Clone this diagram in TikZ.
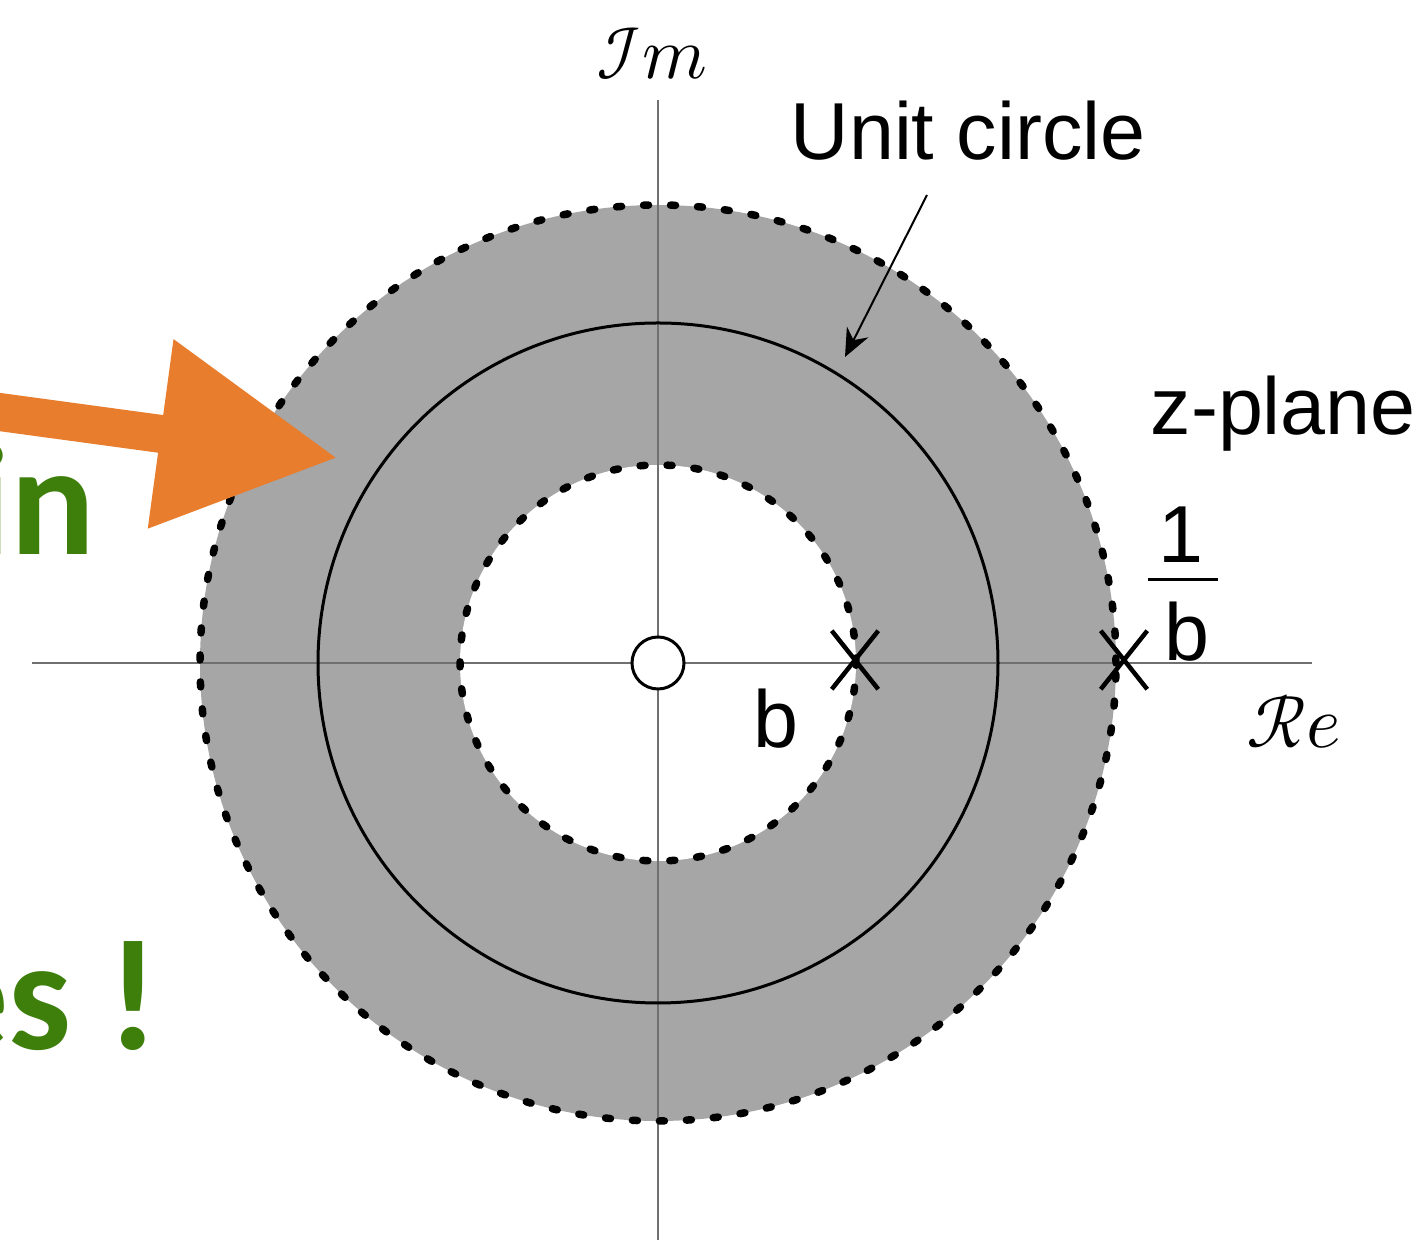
\documentclass[tikz,border=0pt]{standalone}
\usepackage{fontspec}
\usepackage{unicode-math}
\setmainfont{Liberation Sans}
\setmathfont{Latin Modern Math}
\newfontfamily\slidefont{Carlito}
\usetikzlibrary{arrows.meta,shapes.misc}
\definecolor{rocgray}{HTML}{A6A6A6}
\definecolor{axisgray}{HTML}{707070}
\definecolor{slideorange}{HTML}{E87D2D}
\definecolor{slidegreen}{HTML}{3E7F0C}

\begin{document}
\begin{tikzpicture}[x=0.1mm,y=0.1mm,
  lbl/.style={font=\fontsize{23}{27}\selectfont, inner sep=0pt},
  axlbl/.style={font=\fontsize{21}{25}\selectfont, inner sep=0pt},
  polex/.style={cross out, draw=black, line width=0.45mm, minimum width=4.2mm, minimum height=5.4mm, inner sep=0pt},
  greentxt/.style={font=\slidefont\bfseries\fontsize{45}{50}\selectfont, text=slidegreen, inner sep=0pt},
  roc/.style={black, line width=0.75mm, line cap=round, dash pattern=on 0.5mm off 2.2mm},
  axisline/.style={axisgray, line width=0.25mm}]
\useasboundingbox (0,0) rectangle (1424,1240);
\coordinate (O) at (658,577);

% annulus |b| < |z| < 1/|b|
\fill[rocgray] (O) circle (458);
\fill[white] (O) circle (198);

% axes
\coordinate (xl) at (32,577); \coordinate (xr) at (1312,577);
\coordinate (yb) at (658,0); \coordinate (yt) at (658,1140);
\draw[axisline] (xl) -- (xr);
\draw[axisline] (yb) -- (yt);
\node[axlbl] (im) at (652,1186) {$\mathscr{I}\mathscr{m}$};
\node[axlbl] (re) at (1294,518) {$\mathscr{R}\mathscr{e}$};

% circles
\draw[roc] (O) circle (458);
\draw[roc] (O) circle (198);
\draw[black,line width=0.3mm] (O) circle (340);
\node[circle,draw=black,fill=white,line width=0.3mm,minimum size=5.2mm,inner sep=0pt] (zero) at (O) {};

% poles
\node[polex] (pb) at (855,580) {};
\node[polex] (pinv) at (1124,580) {};
\node[lbl] (blbl) at (776,521) {b};
\node[lbl] (one) at (1181,705) {1};
\node[lbl] (bden) at (1187,608) {b};
\coordinate (barl) at (1148,660); \coordinate (barr) at (1218,660);
\draw[black,line width=0.3mm] (barl) -- (barr);

% labels
\node[lbl,anchor=base west] (unitlbl) at (790,1080) {Unit circle};
\node[lbl,anchor=base west] (zplane) at (1150,805) {z-plane};
\coordinate (ucstart) at (927,1045); \coordinate (uctip) at (845,883);
\draw[black,line width=0.2mm,-{Stealth[length=2.8mm,width=2.4mm]}] (ucstart) -- (uctip);

% slide leftovers
\coordinate (arrtail) at (-30,832); \coordinate (arrtip) at (338,782);
\draw[slideorange,line width=3.8mm,-{Triangle[length=17.9mm,width=18mm]}] (arrtail) -- (arrtip);
\node[greentxt,anchor=base east] (intxt) at (96,685) {in};
\node[greentxt,anchor=base east] (estxt) at (160,190) {es !};

\end{tikzpicture}
\end{document}
